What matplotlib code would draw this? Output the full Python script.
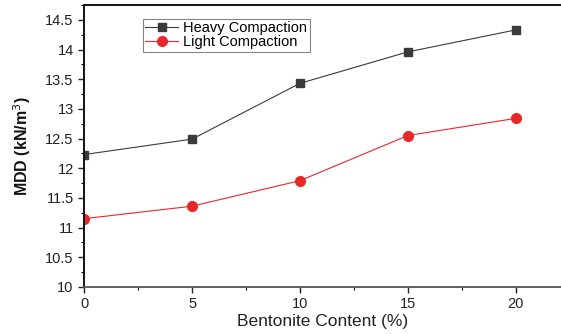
import matplotlib.pyplot as plt
from matplotlib.ticker import MultipleLocator

plt.rcParams['font.family'] = ['Liberation Sans', 'DejaVu Sans']

bentonite = [0, 5, 10, 15, 20]
heavy_mdd = [12.23, 12.49, 13.43, 13.96, 14.33]
light_mdd = [11.15, 11.36, 11.79, 12.55, 12.84]

fig = plt.figure(figsize=(5.61, 3.34), dpi=100)
ax = fig.add_axes([0.150, 0.141, 0.850, 0.844])

ax.plot(bentonite, heavy_mdd, color='#3a3a3a', lw=0.8, marker='s', ms=6,
        label='Heavy Compaction')
ax.plot(bentonite, light_mdd, color='#e8272b', lw=0.8, marker='o', ms=7,
        label='Light Compaction')

ax.set_xlim(0, 22.1)
ax.set_ylim(10, 14.75)
ax.xaxis.set_major_locator(MultipleLocator(5))
ax.xaxis.set_minor_locator(MultipleLocator(2.5))
ax.yaxis.set_major_locator(MultipleLocator(0.5))
ax.yaxis.set_minor_locator(MultipleLocator(0.25))
ax.yaxis.set_major_formatter(plt.FuncFormatter(lambda v, _: f'{v:g}'))

ax.tick_params(which='major', direction='out', length=4, width=1,
               labelsize=10.5, colors='#222222')
ax.tick_params(which='minor', direction='out', length=2, width=0.8)
ax.spines['right'].set_visible(False)
ax.spines['left'].set_linewidth(1.3)
ax.spines['bottom'].set_linewidth(1.3)
ax.spines['bottom'].set_color('#555555')
ax.spines['top'].set_linewidth(1.3)

ax.set_xlabel('Bentonite Content (%)', fontsize=12.5, color='#222222',
              labelpad=2)
ax.set_ylabel('MDD (kN/m$^3$)', fontsize=11.5, color='#111111',
              fontweight='bold', labelpad=9)

leg = ax.legend(loc='upper left', bbox_to_anchor=(0.124, 0.952), fontsize=10.5,
                frameon=True, fancybox=False, edgecolor='#666666',
                borderpad=0.15, labelspacing=0.05, handlelength=2.2,
                handletextpad=0.4, borderaxespad=0)
leg.get_frame().set_linewidth(0.8)

fig.savefig('out.png', dpi=100)
